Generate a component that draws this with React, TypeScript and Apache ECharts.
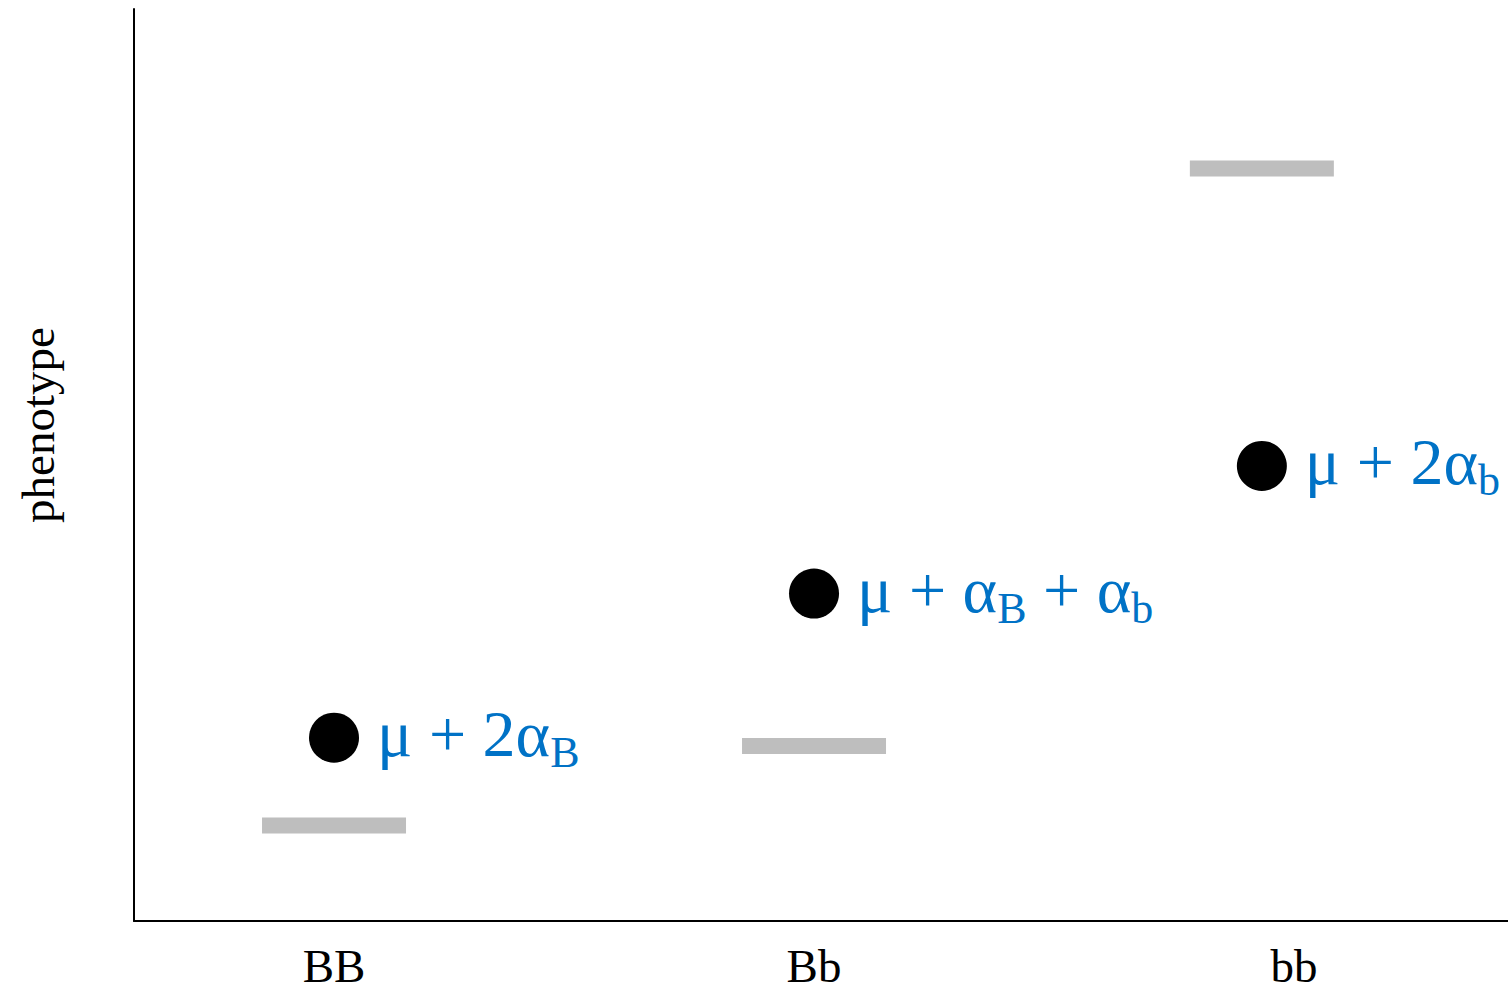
import React, { useEffect, useRef } from "react";
import * as echarts from "echarts";

// Genotype categories and their x positions on the value axis
const categories = ["BB", "Bb", "bb"];
const labelPositions = [1, 2, 3];
const pointX = [1, 2, 2.933];
// Mean phenotype (black dots) and gray reference bars
const pointY = [2.01, 3.59, 4.99];
const barY = [1.046, 1.92, 8.25];
// Label texts as [main, subscript] pieces
const labelParts: string[][][] = [
  [["μ + 2α", "B"]],
  [["μ + α", "B"], [" + α", "b"]],
  [["μ + 2α", "b"]],
];

const X_MIN = 0.5833;
const X_MAX = 3.4458;
const Y_MIN = 0;
const Y_MAX = 10;

const SERIF = "'Liberation Serif', 'Times New Roman', serif";
const BLUE = "#0072C6";

export default function App() {
  const ref = useRef<HTMLDivElement>(null);
  useEffect(() => {
    document.body.style.margin = "0";
    if (!ref.current) return;
    const chart = echarts.init(ref.current, undefined, { renderer: "svg" });
    const points = pointX.map((x, i) => [x, pointY[i]]);
    const bars = pointX.map((x, i) => [x, barY[i]]);
    chart.setOption({
      animation: false,
      backgroundColor: "#ffffff",
      grid: {
        left: 134,
        right: 0,
        top: 9,
        bottom: 67,
        containLabel: false,
        outerBoundsMode: "none",
      },
      xAxis: {
        type: "value",
        min: X_MIN,
        max: X_MAX,
        splitLine: { show: false },
        axisLine: { show: true, onZero: false, lineStyle: { color: "#000", width: 2 } },
        axisTick: { show: false },
        axisLabel: {
          customValues: labelPositions,
          formatter: (v: number) => {
            const idx = labelPositions.findIndex((p) => Math.abs(p - v) < 1e-6);
            return idx >= 0 ? categories[idx] : "";
          },
          color: "#000",
          fontFamily: SERIF,
          fontSize: 47,
          lineHeight: 34,
          margin: 28,
          showMinLabel: true,
          showMaxLabel: true,
        },
      },
      yAxis: {
        type: "value",
        min: Y_MIN,
        max: Y_MAX,
        splitLine: { show: false },
        axisLine: { show: true, onZero: false, lineStyle: { color: "#000", width: 2 } },
        axisTick: { show: false },
        axisLabel: { show: false },
      },
      graphic: [
        {
          type: "text",
          x: 38,
          y: 425,
          rotation: Math.PI / 2,
          style: {
            text: "phenotype",
            fontFamily: SERIF,
            fontSize: 47,
            fill: "#000",
            align: "center",
            verticalAlign: "middle",
          },
        },
      ],
      series: [
        {
          type: "scatter",
          data: bars,
          symbol: "rect",
          symbolSize: [144, 16],
          itemStyle: { color: "#BEBEBE", opacity: 1 },
          emphasis: { disabled: true },
          z: 1,
        },
        {
          type: "scatter",
          data: points,
          symbol: "circle",
          symbolSize: 50,
          itemStyle: { color: "#000", opacity: 1 },
          emphasis: { disabled: true },
          z: 2,
          label: {
            show: true,
            position: "right",
            distance: 18,
            offset: [0, -5],
            opacity: 1,
            formatter: (p: any) => {
              const parts = labelParts[p.dataIndex];
              return parts.map(([m, s]) => "{m|" + m + "}{s|" + s + "}").join("");
            },
            rich: {
              m: {
                fontFamily: SERIF,
                fontSize: 66,
                lineHeight: 64,
                color: BLUE,
                verticalAlign: "top",
                padding: [0, 0, 20, 0],
              },
              s: {
                fontFamily: SERIF,
                fontSize: 44,
                lineHeight: 42,
                color: BLUE,
                verticalAlign: "top",
                padding: [30, 0, 0, 0],
              },
            },
          },
        },
      ],
    });
    return () => chart.dispose();
  }, []);
  return <div ref={ref} style={{ width: 1508, height: 988 }} />;
}
